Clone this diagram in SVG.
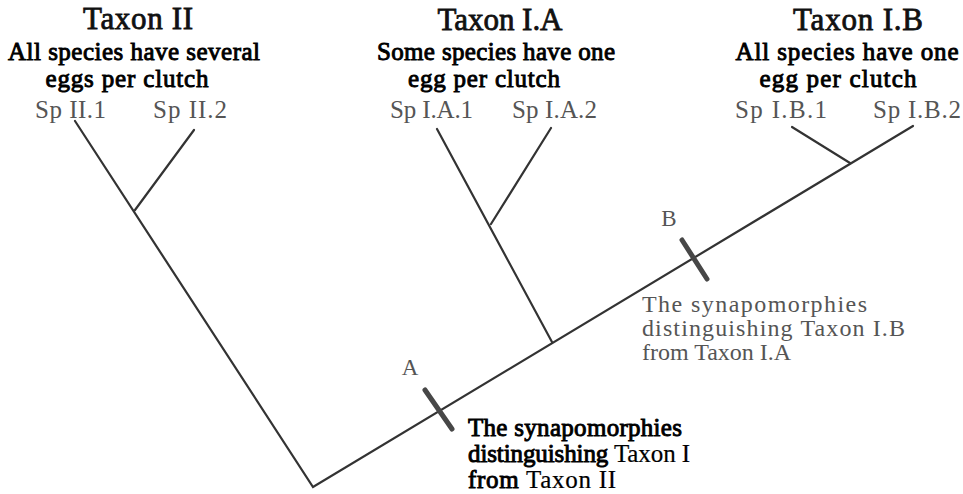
<svg xmlns="http://www.w3.org/2000/svg" width="963" height="494" viewBox="0 0 963 494">
<style>
.bg{fill:#fff}
.br{stroke:#333;stroke-width:2.2;fill:none;stroke-linecap:round}
.tick{stroke:#474747;stroke-width:5;stroke-linecap:round;fill:none}
.title{font-family:"Liberation Serif",serif;font-size:31px;fill:#111;stroke:#111;stroke-width:0.8;text-anchor:middle}
.head{font-family:"Liberation Serif",serif;font-size:25px;fill:#000;stroke:#000;stroke-width:0.9;text-anchor:middle}
.sp{font-family:"Liberation Serif",serif;font-size:25px;fill:#555}
.lab{font-family:"Liberation Serif",serif;font-size:23px;fill:#555;text-anchor:middle}
.noteB{font-family:"Liberation Serif",serif;font-size:24px;fill:#555}
.noteA{font-family:"Liberation Serif",serif;font-size:25px;fill:#000;stroke:#000;stroke-width:0.9}
.reg{stroke-width:0.2}
</style>
<rect class="bg" x="0" y="0" width="963" height="494"/>
<g id="connectors">
  <polyline class="br" points="75,121 313,487 913,126"/>
  <line class="br" x1="135" y1="210" x2="194" y2="130"/>
  <line class="br" x1="552" y1="342" x2="437" y2="129"/>
  <line class="br" x1="491" y1="224" x2="551" y2="128"/>
  <line class="br" x1="850" y1="163" x2="792" y2="127"/>
</g>
<g id="taxonII">
  <text class="title" x="138" y="29" textLength="110">Taxon II</text>
  <text class="head" x="134" y="60" textLength="252">All species have several</text>
  <text class="head" x="127" y="87" textLength="163">eggs per clutch</text>
</g>
<g id="taxonIA">
  <text class="title" x="500" y="30" textLength="125">Taxon I.A</text>
  <text class="head" x="496" y="60" textLength="238">Some species have one</text>
  <text class="head" x="484" y="87" textLength="152">egg per clutch</text>
</g>
<g id="taxonIB">
  <text class="title" x="858" y="30" textLength="130">Taxon I.B</text>
  <text class="head" x="847" y="60" textLength="223">All species have one</text>
  <text class="head" x="838" y="87" textLength="157">egg per clutch</text>
</g>
<g id="spII1"><text class="sp" x="35" y="118" textLength="71">Sp II.1</text></g>
<g id="spII2"><text class="sp" x="153" y="118" textLength="74">Sp II.2</text></g>
<g id="spIA1"><text class="sp" x="390" y="118" textLength="83">Sp I.A.1</text></g>
<g id="spIA2"><text class="sp" x="512" y="118" textLength="85">Sp I.A.2</text></g>
<g id="spIB1"><text class="sp" x="735" y="118" textLength="92">Sp I.B.1</text></g>
<g id="spIB2"><text class="sp" x="873" y="118" textLength="88">Sp I.B.2</text></g>
<g id="markerA">
  <line class="tick" x1="425" y1="390" x2="452" y2="429"/>
  <text class="lab" x="410" y="375">A</text>
  <text class="noteA" x="468" y="436" textLength="214">The synapomorphies</text>
  <text class="noteA" x="468" y="462" textLength="222">distinguishing <tspan class="reg">Taxon I</tspan></text>
  <text class="noteA" x="468" y="488" textLength="148">from <tspan class="reg">Taxon II</tspan></text>
</g>
<g id="markerB">
  <line class="tick" x1="682" y1="240" x2="707" y2="279"/>
  <text class="lab" x="669" y="226">B</text>
  <text class="noteB" x="642" y="312" textLength="225">The synapomorphies</text>
  <text class="noteB" x="642" y="336" textLength="263">distinguishing Taxon I.B</text>
  <text class="noteB" x="642" y="360">from Taxon I.A</text>
</g>
</svg>
